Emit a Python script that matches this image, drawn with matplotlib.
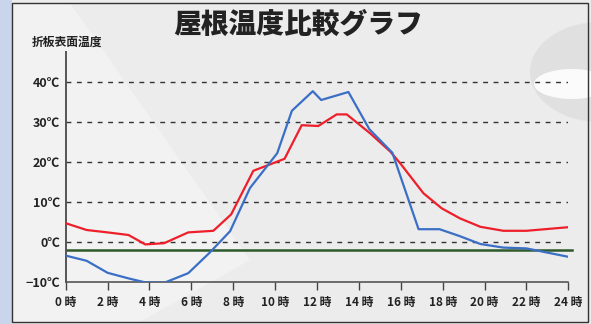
import matplotlib
matplotlib.use("Agg")
import matplotlib.pyplot as plt
from matplotlib.patches import Rectangle, Ellipse, Polygon

plt.rcParams['font.family'] = ['Noto Sans CJK JP', 'DejaVu Sans']

# 折板表面温度 (blue) と 比較 (red), 時刻は時間
blue_hours = [0, 1, 2, 3, 3.8, 4.7, 5.85, 6.85, 7.85, 8.8, 10.1, 10.8, 11.8, 12.2,
              13.5, 14.5, 15.6, 16.85, 17.85, 18.8, 19.8, 20.9, 22.0, 24]
blue_temp = [-3.4, -4.7, -7.7, -9.1, -10.1, -10.2, -7.8, -2.8, 2.7, 13.5, 22.2, 32.8, 37.7, 35.5,
             37.5, 28.2, 22.3, 3.2, 3.2, 1.5, -0.5, -1.4, -1.6, -3.7]

red_hours = [0, 1, 2, 3, 3.8, 4.7, 5.85, 7.05, 7.9, 8.96, 10.45, 11.27, 12.06, 12.94,
             13.42, 14.53, 15.5, 16.0, 17.08, 17.96, 18.83, 19.8, 20.9, 22.0, 24]
red_temp = [4.7, 3.0, 2.4, 1.75, -0.6, -0.3, 2.4, 2.8, 6.9, 17.8, 20.8, 29.2, 29.0, 31.9,
            31.9, 27.2, 22.6, 19.5, 12.2, 8.4, 5.9, 3.8, 2.8, 2.8, 3.7]

base_level = -2.0
grid_levels = [0, 10, 20, 30, 40]
y_labels = ['−10℃', '0℃', '10℃', '20℃', '30℃', '40℃']
y_ticks = [-10, 0, 10, 20, 30, 40]
x_ticks = list(range(0, 25, 2))
x_labels = [f'{h} 時' for h in x_ticks]

W, H = 591, 324
fig = plt.figure(figsize=(W / 100, H / 100), dpi=100, facecolor='#ececec')

def fx(px):
    return px / W

def fy(py):
    return 1 - py / H

# scanned-paper background, kept behind the axes
bg = dict(transform=fig.transFigure, edgecolor='none', zorder=-5)
fig.patches.append(Polygon([(fx(12), fy(3)), (fx(70), fy(3)), (fx(250), fy(260)), (fx(140), fy(322)), (fx(12), fy(322))],
                           closed=True, facecolor='#f2f2f2', **bg))
fig.patches.append(Ellipse((fx(600), fy(72)), fx(140), 1 - fy(100), facecolor='#e0e0e0', **bg))
fig.patches.append(Ellipse((fx(572), fy(84)), fx(76), 1 - fy(30), facecolor='#fbfbfb', **bg))
fig.patches.append(Rectangle((0, 0), fx(12), 1, facecolor='#c8d5ea', **bg))
fig.patches.append(Rectangle((fx(12), fy(322)), fx(576), fy(3) - fy(322), transform=fig.transFigure,
                             facecolor='none', edgecolor='#333333', linewidth=1.0, zorder=1))

ax = fig.add_axes([fx(65.7), fy(282), fx(568.3) - fx(65.7), fy(52) - fy(282)])
ax.set_facecolor('none')
ax.set_xlim(0, 24)
ax.set_ylim(-10, 47.5)

for lv in grid_levels:
    end = 23.7 if lv == 0 else 24
    ax.hlines(lv, 0, end, colors='#333333', linewidth=1.0, linestyles=(0, (3.5, 4)), zorder=1)

ax.plot([0, 24.2], [base_level, base_level], color='#2e5a2a', linewidth=1.8, clip_on=False, zorder=2)
ax.plot(red_hours, red_temp, color='#ee1f2a', linewidth=1.6, zorder=3)
ax.plot(blue_hours, blue_temp, color='#3b6fc6', linewidth=1.6, zorder=4)

for side in ['top', 'right']:
    ax.spines[side].set_visible(False)
ax.spines['left'].set_color('#555555')
ax.spines['left'].set_linewidth(1.4)
ax.spines['bottom'].set_color('#555555')
ax.spines['bottom'].set_linewidth(1.2)

ax.set_yticks(y_ticks)
ax.set_yticklabels(y_labels, fontsize=9, fontweight='bold', color='#222222')
ax.tick_params(axis='y', length=0, pad=4)
ax.set_xticks(x_ticks)
ax.set_xticklabels(x_labels, fontsize=8.5, fontweight='bold', color='#222222')
ax.tick_params(axis='x', direction='out', length=6, width=1.0, color='#444444', pad=4)

fig.text(fx(298), fy(25), '屋根温度比較グラフ', ha='center', va='center',
         fontsize=20, fontweight='heavy', color='#222222')
fig.text(fx(32), fy(42), '折板表面温度', ha='left', va='center',
         fontsize=8.5, fontweight='bold', color='#222222')

fig.savefig('out.png', dpi=100, facecolor=fig.get_facecolor())
